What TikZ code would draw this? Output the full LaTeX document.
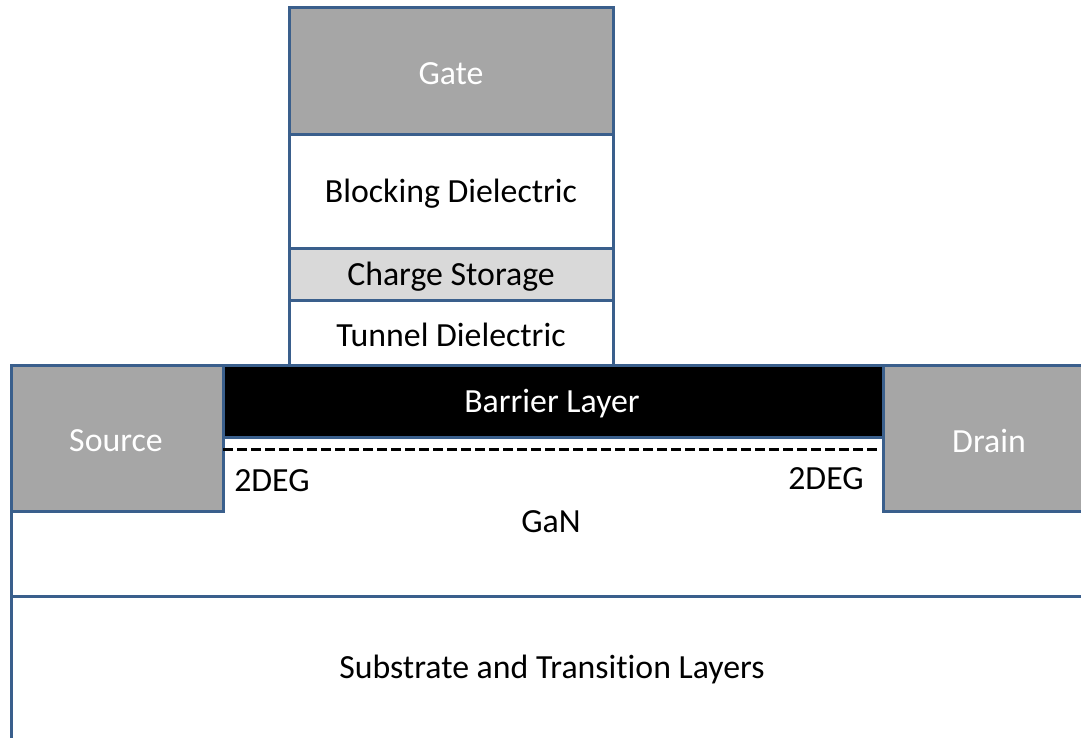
\documentclass[tikz,border=0pt]{standalone}
\usepackage{fontspec}
\setmainfont{Carlito}[Ligatures=NoCommon]
\definecolor{edge}{RGB}{58,95,140}
\definecolor{metal}{RGB}{166,166,166}
\definecolor{storage}{RGB}{217,217,217}
\begin{document}
\begin{tikzpicture}[x=1pt,y=-1pt,
  layer/.style={draw=edge,line width=3pt},
  lbl/.style={font=\fontsize{33.8}{40}\selectfont,text=black,inner sep=0pt},
  wlbl/.style={lbl,text=white}]
\useasboundingbox (0,0) rectangle (1081,738);
\clip (0,0) rectangle (1081,738);
% substrate and GaN
\draw[layer,fill=white] (11,596) rectangle (1110,770);
\draw[layer,fill=white] (11,365) rectangle (1110,596);
% source / drain
\draw[layer,fill=metal] (11,365) rectangle (223,511);
\draw[layer,fill=metal] (883,365) rectangle (1110,511);
% barrier
\draw[layer,fill=black] (223,365) rectangle (883,437);
% 2DEG dashed
\draw[black,line width=3pt,dash pattern=on 10pt off 4pt] (223,449) -- (880,449);
% gate stack
\draw[layer,fill=white] (289,300) rectangle (613,365);
\draw[layer,fill=storage] (289,248) rectangle (613,300);
\draw[layer,fill=white] (289,135) rectangle (613,248);
\draw[layer,fill=metal] (289,8) rectangle (613,135);
% labels
\node[wlbl] (gate) at (451,73.5) {Gate};
\node[lbl] (block) at (451,193.5) {Blocking Dielectric};
\node[lbl] (store) at (451,277) {Charge Storage};
\node[lbl] (tunnel) at (451,334.5) {Tunnel Dielectric};
\node[wlbl] (barrier) at (552,403.5) {Barrier Layer};
\node[wlbl] (source) at (116,440.5) {Source};
\node[wlbl] (drain) at (989,440.5) {Drain};
\node[lbl] (degl) at (272,481) {2DEG};
\node[lbl] (degr) at (826,479) {2DEG};
\node[lbl] (gan) at (551,521.5) {GaN};
\node[lbl] (sub) at (552,669.5) {Substrate and Transition Layers};
\end{tikzpicture}
\end{document}
